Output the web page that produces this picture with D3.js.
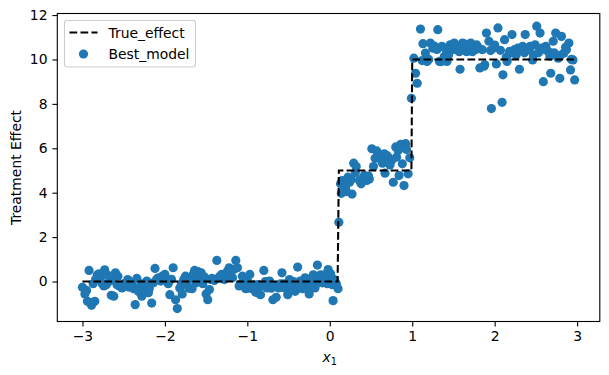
<!DOCTYPE html>
<html>
<head>
<meta charset="utf-8">
<script src="https://cdn.jsdelivr.net/npm/d3@7"></script>
<style>
  body { margin: 0; background: #fff; }
  svg { display: block; font-family: "DejaVu Sans", sans-serif; }
</style>
</head>
<body>
<div id="chart"></div>
<script>
// ─── DATA ─────────────────────────────────────────────────────────────────────
// true treatment effect (step function)
const trueX = [-3.0, 0.095, 0.11, 0.99, 1.0, 2.98];
const trueY = [0, 0, 5, 5, 10, 10];

// best model estimates, [x1, effect]
const lowPoints = [
  [-3.0, -0.26], [-2.97, -0.56], [-2.94, -0.89], [-2.92, 0.5], [-2.89, -1.07],
  [-2.87, -0.1], [-2.85, -0.89], [-2.82, 0.29], [-2.78, 0.17], [-2.76, -0.1],
  [-2.73, 0.53], [-2.71, -0.14], [-2.67, 0.02], [-2.65, -0.62], [-2.62, -0.66],
  [-2.6, 0.39], [-2.57, 0.24], [-2.55, -0.21], [-2.52, -0.29], [-2.47, -0.06],
  [-2.45, 0.09], [-2.41, -0.14], [-2.38, -0.32], [-2.36, -1.04], [-2.34, 0.14],
  [-2.3, -0.21], [-2.28, -0.66], [-2.25, -0.44], [-2.22, 0.02], [-2.19, -0.32],
  [-2.16, -0.97], [-2.14, -0.06], [-2.12, 0.59], [-2.08, 0.17], [-2.05, 0.02],
  [-2.0, 0.32], [-1.98, 0.09], [-1.94, -0.59], [-1.9, 0.62], [-1.87, -0.82],
  [-1.85, -1.22], [-1.82, -0.29], [-1.79, -0.56], [-1.75, 0.24], [-1.73, -0.14],
  [-1.69, 0.14], [-1.67, -0.32], [-1.64, 0.5], [-1.62, -0.06], [-1.59, 0.24],
  [-1.56, 0.39], [-1.54, -0.1], [-1.5, -0.56], [-1.48, -0.82], [-1.46, -0.36],
  [-1.43, 0.14], [-1.37, 0.95], [-1.35, 0.17], [-1.31, 0.32], [-1.28, 0.09],
  [-1.24, 0.47], [-1.22, 0.62], [-1.18, 0.17], [-1.14, 0.95], [-1.12, 0.62],
  [-1.09, -0.14], [-1.06, 0.24], [-1.02, -0.32], [-1.0, 0.05], [-0.97, 0.32],
  [-0.94, -0.32], [-0.9, -0.47], [-0.87, -0.14], [-0.84, -0.59], [-0.8, 0.5],
  [-0.76, -0.29], [-0.73, 0.02], [-0.69, -0.82], [-0.65, -0.71], [-0.62, -0.29],
  [-0.58, 0.39], [-0.56, -0.1], [-0.51, -0.59], [-0.49, 0.09], [-0.46, -0.29],
  [-0.42, -0.44], [-0.39, 0.65], [-0.36, 0.02], [-0.33, -0.32], [-0.3, 0.17],
  [-0.28, -0.17], [-0.25, -0.56], [-0.22, 0.02], [-0.18, -0.29], [-0.15, 0.74],
  [-0.13, 0.17], [-0.09, -0.06], [-0.05, 0.32], [-0.02, 0.54], [0.0, 0.24],
  [0.03, -0.14], [0.04, -0.86], [0.06, 0.02], [0.1, -0.32],
  [-2.95, -0.4], [-2.9, -0.95], [-2.84, 0.1], [-2.8, 0.35], [-2.74, -0.2],
  [-2.7, 0.3], [-2.63, 0.1], [-2.58, -0.15], [-2.5, -0.1], [-2.44, -0.25],
  [-2.4, -0.05], [-2.32, -0.45], [-2.27, -0.1], [-2.2, -0.5], [-2.1, 0.1],
  [-2.03, 0.25], [-1.96, -0.1], [-1.92, 0.1], [-1.8, -0.1], [-1.77, 0.1],
  [-1.71, -0.3], [-1.66, 0.3], [-1.6, 0.45], [-1.52, 0.2], [-1.45, 0.1],
  [-1.4, 0.05], [-1.33, 0.25], [-1.26, 0.35], [-1.2, 0.2], [-1.16, 0.55],
  [-1.1, -0.2], [-1.04, 0.1], [-0.99, -0.3], [-0.92, -0.15], [-0.88, -0.5],
  [-0.82, -0.2], [-0.78, 0.0], [-0.71, -0.3], [-0.67, -0.2], [-0.6, -0.1],
  [-0.54, -0.3], [-0.47, -0.1], [-0.44, 0.0], [-0.38, -0.3], [-0.34, -0.1],
  [-0.27, 0.1], [-0.23, -0.3], [-0.2, 0.3], [-0.16, -0.1], [-0.11, 0.3],
  [-0.07, 0.05], [-0.03, -0.1], [0.01, 0.35], [0.05, 0.1], [0.08, -0.1]
];
const midPoints = [
  [0.11, 2.67], [0.14, 3.97], [0.17, 4.32], [0.15, 4.55], [0.19, 4.24],
  [0.22, 4.7], [0.24, 4.47], [0.27, 3.94], [0.29, 5.33], [0.32, 5.18],
  [0.36, 4.55], [0.38, 4.4], [0.42, 4.77], [0.45, 4.55], [0.48, 4.62],
  [0.51, 5.98], [0.53, 5.18], [0.57, 5.88], [0.59, 5.6], [0.64, 5.33],
  [0.67, 4.88], [0.69, 5.68], [0.71, 5.6], [0.75, 5.45], [0.77, 4.47],
  [0.8, 6.06], [0.81, 5.6], [0.84, 4.77], [0.86, 6.18], [0.88, 5.3],
  [0.9, 4.32], [0.92, 6.21], [0.95, 4.85], [0.97, 5.57], [0.99, 8.25],
  [0.13, 4.4], [0.2, 4.05], [0.26, 4.6], [0.31, 4.9], [0.4, 4.65],
  [0.47, 4.75], [0.55, 5.55], [0.62, 5.5], [0.66, 5.75], [0.73, 5.25],
  [0.83, 5.9], [0.93, 5.95]
];
const highPoints = [
  [1.02, 10.06], [1.04, 9.38], [1.06, 8.93], [1.1, 11.37], [1.13, 10.71],
  [1.16, 10.29], [1.18, 9.91], [1.22, 10.74], [1.25, 10.51], [1.31, 11.34],
  [1.33, 9.91], [1.36, 10.59], [1.39, 10.14], [1.42, 9.91], [1.46, 10.66],
  [1.48, 10.44], [1.51, 10.74], [1.55, 10.59], [1.58, 9.56], [1.61, 10.74],
  [1.64, 10.44], [1.68, 10.59], [1.71, 10.74], [1.75, 10.51], [1.78, 10.66],
  [1.82, 9.62], [1.85, 10.44], [1.88, 9.76], [1.9, 11.19], [1.93, 10.82],
  [1.96, 7.79], [1.98, 10.51], [2.02, 9.8], [2.04, 11.42], [2.07, 10.41],
  [2.09, 8.07], [2.1, 9.31], [2.12, 10.89], [2.15, 9.91], [2.18, 10.36],
  [2.21, 11.12], [2.24, 10.44], [2.28, 10.51], [2.3, 9.56], [2.34, 10.59],
  [2.37, 11.12], [2.4, 10.44], [2.43, 10.59], [2.46, 9.98], [2.49, 10.66],
  [2.51, 11.5], [2.55, 11.19], [2.57, 10.51], [2.59, 9.0], [2.62, 10.59],
  [2.65, 10.36], [2.68, 9.38], [2.71, 10.82], [2.74, 11.19], [2.77, 10.06],
  [2.79, 9.15], [2.81, 11.04], [2.84, 10.29], [2.87, 10.44], [2.9, 10.74],
  [2.92, 9.53], [2.95, 9.98], [2.97, 9.08],
  [1.12, 9.95], [1.2, 10.0], [1.27, 10.6], [1.3, 10.45], [1.35, 9.9],
  [1.4, 10.5], [1.44, 10.2], [1.5, 10.45], [1.53, 10.6], [1.57, 10.35],
  [1.6, 10.55], [1.63, 10.7], [1.66, 10.35], [1.7, 10.5], [1.73, 10.35],
  [1.77, 10.45], [1.8, 10.55], [1.87, 9.7], [1.95, 10.4], [2.0, 10.65],
  [2.14, 10.1], [2.2, 10.3], [2.26, 10.2], [2.32, 10.4], [2.36, 10.3],
  [2.42, 10.45], [2.47, 10.2], [2.53, 10.3], [2.6, 10.45], [2.67, 10.15],
  [2.72, 10.3], [2.8, 10.2], [2.86, 10.55], [2.93, 10.0]
];

const xTicks = [-3, -2, -1, 0, 1, 2, 3];
const yTicks = [0, 2, 4, 6, 8, 10, 12];
const seriesNames = ["True_effect", "Best_model"];

// ─── LAYOUT ──────────────────────────────────────────────────────────────────
const W = 609, H = 375;
const plot = { left: 57.3, top: 13.5, width: 542.5, height: 308 };
const fontPx = 13.9;       // 10pt at 100 dpi
const tickLen = 4.9;
const tickPad = 4.9;
const blue = "#1f77b4";

const svg = d3.select("#chart").append("svg")
  .attr("width", W)
  .attr("height", H);

svg.append("rect").attr("width", W).attr("height", H).attr("fill", "#fff");

const x = d3.scaleLinear()
  .domain([-3.305, 3.275])
  .range([plot.left, plot.left + plot.width]);

const y = d3.scaleLinear()
  .domain([-1.8, 12.07])
  .range([plot.top + plot.height, plot.top]);

// ─── AXES ────────────────────────────────────────────────────────────────────
const fmt = d => d < 0 ? "\u2212" + Math.abs(d) : String(d);

const xAxis = svg.append("g")
  .attr("transform", `translate(0,${plot.top + plot.height})`)
  .call(d3.axisBottom(x).tickValues(xTicks).tickFormat(fmt)
    .tickSize(tickLen).tickPadding(tickPad));

const yAxis = svg.append("g")
  .attr("transform", `translate(${plot.left},0)`)
  .call(d3.axisLeft(y).tickValues(yTicks).tickFormat(fmt)
    .tickSize(tickLen).tickPadding(tickPad));

[xAxis, yAxis].forEach(g => {
  g.select(".domain").remove();
  g.selectAll(".tick line").attr("stroke", "#000").attr("stroke-width", 1.1);
  g.selectAll(".tick text")
    .attr("fill", "#000")
    .style("font-family", "DejaVu Sans")
    .style("font-size", fontPx + "px");
});

// ─── MARKS ───────────────────────────────────────────────────────────────────
const modelPoints = lowPoints.concat(midPoints, highPoints);

svg.append("g")
  .selectAll("circle")
  .data(modelPoints)
  .join("circle")
  .attr("cx", d => x(d[0]))
  .attr("cy", d => y(d[1]))
  .attr("r", 4.6)
  .attr("fill", blue);

const line = d3.line()
  .x(i => x(trueX[i]))
  .y(i => y(trueY[i]));

svg.append("path")
  .datum(d3.range(trueX.length))
  .attr("d", line)
  .attr("fill", "none")
  .attr("stroke", "#000")
  .attr("stroke-width", 2.08)
  .attr("stroke-dasharray", "7.7,3.3");

// frame
svg.append("rect")
  .attr("x", plot.left)
  .attr("y", plot.top)
  .attr("width", plot.width)
  .attr("height", plot.height)
  .attr("fill", "none")
  .attr("stroke", "#000")
  .attr("stroke-width", 1.1);

// ─── LABELS ──────────────────────────────────────────────────────────────────
svg.append("text")
  .attr("transform", `translate(21,${plot.top + plot.height / 2}) rotate(-90)`)
  .attr("text-anchor", "middle")
  .style("font-size", fontPx + "px")
  .text("Treatment Effect");

const xl = svg.append("text")
  .attr("x", x(0))
  .attr("y", 362)
  .attr("text-anchor", "middle")
  .style("font-size", fontPx + "px");
xl.append("tspan").style("font-style", "italic").text("x");
xl.append("tspan").attr("dy", 2.5).style("font-size", "9.7px").text("1");

// ─── LEGEND ──────────────────────────────────────────────────────────────────
const legend = svg.append("g").attr("transform", "translate(64.5,20.5)");

legend.append("rect")
  .attr("width", 131)
  .attr("height", 46.5)
  .attr("rx", 2.5)
  .attr("fill", "#fff")
  .attr("fill-opacity", 0.8)
  .attr("stroke", "#ccc")
  .attr("stroke-width", 1.1);

legend.append("line")
  .attr("x1", 5).attr("x2", 33)
  .attr("y1", 12).attr("y2", 12)
  .attr("stroke", "#000")
  .attr("stroke-width", 2.08)
  .attr("stroke-dasharray", "7.7,3.3");

legend.append("circle")
  .attr("cx", 19).attr("cy", 33.5)
  .attr("r", 4.6)
  .attr("fill", blue);

legend.selectAll("text.lbl")
  .data(seriesNames)
  .join("text")
  .attr("class", "lbl")
  .attr("x", 44)
  .attr("y", (d, i) => 17 + i * 21.5)
  .style("font-size", fontPx + "px")
  .text(d => d);
</script>
</body>
</html>
